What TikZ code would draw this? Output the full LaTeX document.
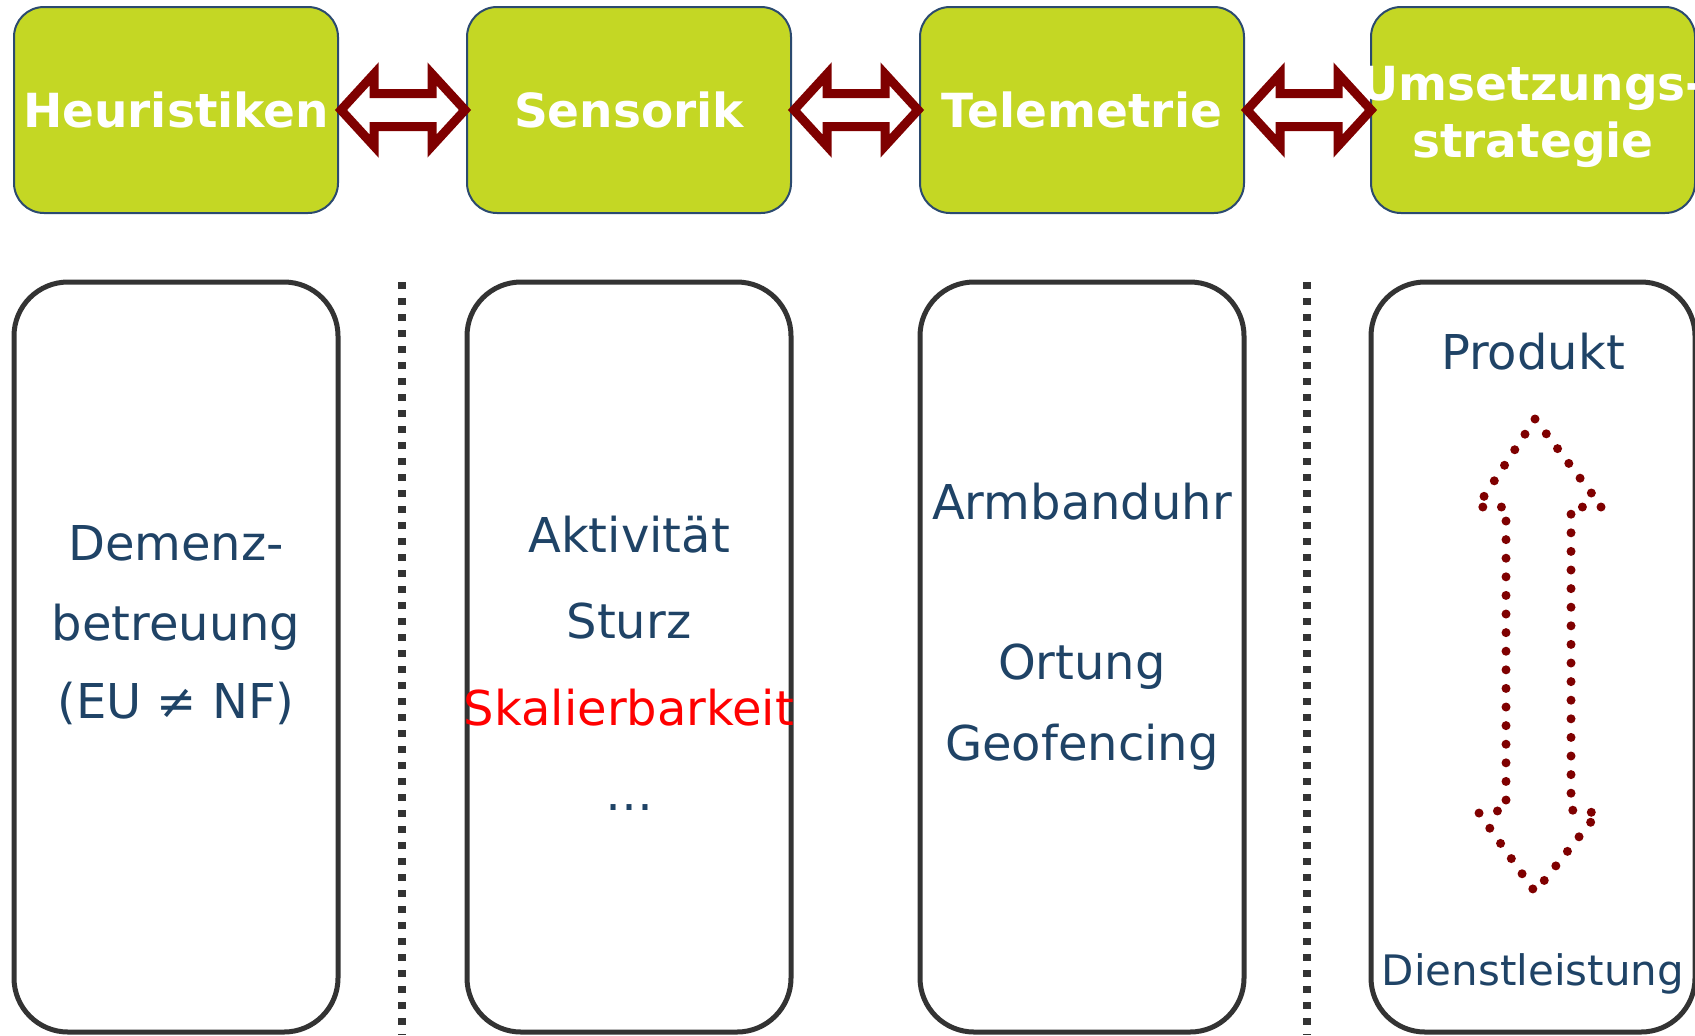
\documentclass[tikz,border=0pt]{standalone}
\usepackage{fontspec}
\setmainfont{DejaVu Sans}
\usepackage{tikz}

\definecolor{boxgreen}{HTML}{C4D724}
\definecolor{boxline}{HTML}{2B4A6F}
\definecolor{frame}{HTML}{333333}
\definecolor{itemblue}{HTML}{1F4366}
\definecolor{arrowred}{HTML}{7F0000}

\begin{document}
\begin{tikzpicture}[x=0.5pt,y=-0.5pt,
    topbox/.style={draw=boxline,line width=1pt,fill=boxgreen,rounded corners=15pt,
      minimum width=162pt,minimum height=103pt,inner sep=0pt,
      text=white,font=\bfseries\fontsize{23.5}{28.5}\selectfont},
    toptext/.style={anchor=base,inner sep=0pt,text=white,font=\bfseries\fontsize{23.5}{28.5}\selectfont},
    listbox/.style={draw=frame,line width=2.5pt,rounded corners=27pt,
      minimum width=162pt,minimum height=375pt},
    item/.style={anchor=base,inner sep=0pt,text=itemblue,font=\fontsize{24}{28}\selectfont},
    linkarrow/.style={draw=arrowred,line width=4.5pt,fill=white},
    sepline/.style={draw=frame,line width=4pt,dash pattern=on 3.5pt off 4.5pt},
    flow/.style={draw=arrowred,line width=4.5pt,line cap=round,dash pattern=on 0pt off 9.3pt}]
    \useasboundingbox (0,0) rectangle (1695,1035);

    \node[topbox] (heur) at (176,110) {Heuristiken};
    \node[topbox] (sens) at (629,110) {Sensorik};
    \node[topbox] (tele) at (1082,110) {Telemetrie};
    \node[topbox] (umst) at (1533,110) {};
    \node[toptext] (umst1) at (1533,100) {Umsetzungs-};
    \node[toptext] (umst2) at (1533,157) {strategie};

    \foreach \a/\b in {heur/sens,sens/tele,tele/umst}
      \draw[linkarrow] ([xshift=1pt]\a.east) -- ++(33,-36) -- ++(0,19.5) -- ++(58,0) -- ++(0,-19.5)
        -- ++(33,36) -- ++(-33,36) -- ++(0,-19.5) -- ++(-58,0) -- ++(0,19.5) -- cycle;

    \node[listbox] (heurlist) at (176,657) {};
    \node[listbox] (senslist) at (629,657) {};
    \node[listbox] (telelist) at (1082,657) {};
    \node[listbox] (umstlist) at (1533,657) {};

    \draw[sepline] (402,282) -- (402,1035);
    \draw[sepline] (1307,282) -- (1307,1035);

    \node[item] (demenz) at (176,560) {Demenz-};
    \node[item] (betreu) at (176,640) {betreuung};
    \node[item] (eunf) at (176,718) {(EU ≠ NF)};

    \node[item] (aktiv) at (629,552) {Aktivität};
    \node[item] (sturz) at (629,638) {Sturz};
    \node[item,text=red] (skal) at (629,725) {Skalierbarkeit};
    \node[item] (more) at (629,810) {…};

    \node[item] (uhr) at (1082,519) {Armbanduhr};
    \node[item] (ortung) at (1082,679) {Ortung};
    \node[item] (geo) at (1082,760) {Geofencing};

    \node[item] (prod) at (1533,369) {Produkt};
    \node[item,font=\fontsize{21}{25}\selectfont] (dienst) at (1533,985) {Dienstleistung};

    \draw[flow] (1535,419) -- (1602,507) -- (1571,507) -- (1571,810) -- (1598,813)
      -- (1535,892) -- (1479,813) -- (1506,810) -- (1506,507) -- (1477,507) -- cycle;
\end{tikzpicture}
\end{document}
